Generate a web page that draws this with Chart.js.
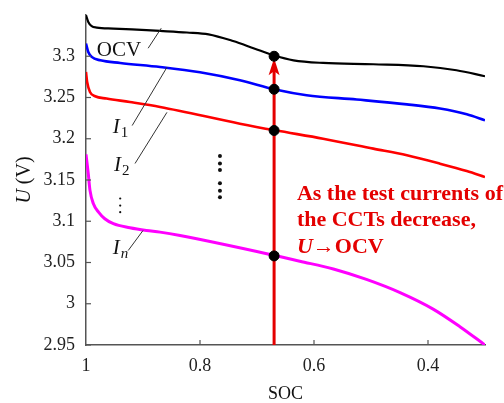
<!DOCTYPE html>
<html><head><meta charset="utf-8">
<script src="https://cdn.jsdelivr.net/npm/chart.js@4"></script>
<style>html,body{margin:0;padding:0;background:#fff}#c{display:block}</style>
</head><body>
<canvas id="c" width="504" height="403"></canvas>
<script>
// ---- data ----
const socOCV = [1.0, 0.996, 0.99, 0.981, 0.952, 0.894, 0.87, 0.823, 0.785, 0.742, 0.705, 0.671, 0.636, 0.584, 0.496, 0.408, 0.35, 0.3];
const uOCV   = [3.3498, 3.3416, 3.3364, 3.3348, 3.3336, 3.3316, 3.3307, 3.3288, 3.3266, 3.3185, 3.3095, 3.3012, 3.2951, 3.2919, 3.2903, 3.2879, 3.283, 3.2757];

const socI1 = [1.0, 0.996, 0.99, 0.975, 0.94, 0.87, 0.8, 0.73, 0.668, 0.613, 0.525, 0.437, 0.379, 0.332, 0.3];
const uI1   = [3.3154, 3.3052, 3.2992, 3.2951, 3.2919, 3.287, 3.2806, 3.2709, 3.2596, 3.2527, 3.2475, 3.2417, 3.2366, 3.2296, 3.2223];

const socI2 = [1.0, 0.998, 0.993, 0.984, 0.964, 0.923, 0.87, 0.73, 0.668, 0.584, 0.496, 0.437, 0.379, 0.332, 0.3];
const uI2   = [3.2809, 3.2688, 3.2567, 3.2515, 3.2487, 3.2445, 3.2385, 3.2183, 3.2102, 3.2001, 3.188, 3.1799, 3.1698, 3.1608, 3.1535];

const socIn = [1.0, 0.996, 0.993, 0.987, 0.978, 0.967, 0.952, 0.923, 0.894, 0.87, 0.835, 0.668, 0.625, 0.566, 0.508, 0.449, 0.391, 0.344, 0.3];
const uIn   = [3.1811, 3.1576, 3.1374, 3.1212, 3.111, 3.103, 3.097, 3.0921, 3.0888, 3.0868, 3.0827, 3.0584, 3.0516, 3.0422, 3.0295, 3.0135, 2.9935, 2.9722, 2.95];

const markerSOC = 0.67;
const markerU = [3.300, 3.260, 3.210, 3.058];

const xTicks = [1, 0.8, 0.6, 0.4];
const yTicks = [2.95, 3, 3.05, 3.1, 3.15, 3.2, 3.25, 3.3];

const curveLabels = ['OCV', 'I1', 'I2', 'In'];
const noteLines = ['As the test currents of', 'the CCTs decrease,'];

const pts = (xs, ys) => xs.map((x, i) => ({x: x, y: ys[i]}));
const SERIF = '"Liberation Serif", "Times New Roman", serif';

const lineDs = (label, xs, ys, color, w) => ({
  label: label, data: pts(xs, ys), borderColor: color, borderWidth: w,
  pointRadius: 0, fill: false, cubicInterpolationMode: 'monotone'
});

const decor = {
  id: 'decor',
  beforeDatasetDraw(chart, args) {
    if (args.index !== 0) return;
    const ctx = chart.ctx, xs = chart.scales.x, ys = chart.scales.y;
    const x = xs.getPixelForValue(markerSOC);
    const yb = ys.getPixelForValue(yTicks[0]);
    const yt = ys.getPixelForValue(markerU[0]) + 2;
    ctx.save();
    ctx.strokeStyle = '#e40000'; ctx.fillStyle = '#e40000';
    ctx.lineWidth = 3;
    ctx.beginPath(); ctx.moveTo(x, yb); ctx.lineTo(x, yt + 12); ctx.stroke();
    ctx.beginPath();
    ctx.moveTo(x, yt); ctx.lineTo(x - 5.5, yt + 17); ctx.lineTo(x, yt + 13); ctx.lineTo(x + 5.5, yt + 17);
    ctx.closePath(); ctx.fill();
    ctx.restore();
  },
  afterDraw(chart) {
    const ctx = chart.ctx, xs = chart.scales.x, ys = chart.scales.y, a = chart.chartArea;
    const X = v => xs.getPixelForValue(v), Y = v => ys.getPixelForValue(v);
    ctx.save();
    // inward tick marks
    ctx.strokeStyle = '#555'; ctx.lineWidth = 1.2;
    xTicks.forEach(v => { if (v === 1) return; ctx.beginPath(); ctx.moveTo(X(v), a.bottom); ctx.lineTo(X(v), a.bottom - 5); ctx.stroke(); });
    yTicks.forEach(v => { ctx.beginPath(); ctx.moveTo(a.left, Y(v)); ctx.lineTo(a.left + 5, Y(v)); ctx.stroke(); });

    // axis titles
    ctx.fillStyle = '#111';
    ctx.font = '18px ' + SERIF; ctx.textAlign = 'center'; ctx.textBaseline = 'middle';
    ctx.fillText('SOC', (a.left + a.right) / 2, 394);
    ctx.save();
    ctx.translate(25, (a.top + a.bottom) / 2); ctx.rotate(-Math.PI / 2);
    ctx.textAlign = 'left';
    ctx.font = 'italic 20px ' + SERIF;
    const wU = ctx.measureText('U').width;
    ctx.font = '20px ' + SERIF;
    const wR = ctx.measureText(' (V)').width;
    let sx = -(wU + wR) / 2;
    ctx.font = 'italic 20px ' + SERIF; ctx.fillText('U', sx, 0);
    ctx.font = '20px ' + SERIF; ctx.fillText(' (V)', sx + wU, 0);
    ctx.restore();

    // leader lines
    ctx.strokeStyle = '#333'; ctx.lineWidth = 1;
    const lead = (s1, u1, s2, u2) => { ctx.beginPath(); ctx.moveTo(X(s1), Y(u1)); ctx.lineTo(X(s2), Y(u2)); ctx.stroke(); };
    lead(0.891, 3.3097, 0.868, 3.3340);
    lead(0.919, 3.216, 0.858, 3.2866);
    lead(0.914, 3.170, 0.858, 3.232);
    lead(0.926, 3.0645, 0.900, 3.0888);

    // curve labels
    ctx.fillStyle = '#111'; ctx.textAlign = 'left'; ctx.textBaseline = 'middle';
    ctx.font = '21px ' + SERIF;
    ctx.fillText(curveLabels[0], X(0.981), Y(3.307));
    const iLab = (s, u, sub) => {
      ctx.font = 'italic 21px ' + SERIF;
      ctx.fillText('I', X(s), Y(u));
      const w = ctx.measureText('I').width;
      ctx.font = (sub === 'n' ? 'italic ' : '') + '15px ' + SERIF;
      ctx.fillText(sub, X(s) + w + 1, Y(u) + 6);
    };
    iLab(0.953, 3.2138, curveLabels[1].slice(1));
    iLab(0.951, 3.168, curveLabels[2].slice(1));
    iLab(0.953, 3.067, curveLabels[3].slice(1));

    // vertical ellipses
    const dot = (s, u, r) => { ctx.beginPath(); ctx.arc(X(s), Y(u), r, 0, Math.PI * 2); ctx.fill(); };
    [3.1276, 3.119, 3.111].forEach(u => dot(0.940, u, 1.1));
    [3.179, 3.170, 3.162, 3.146, 3.137, 3.129].forEach(u => dot(0.765, u, 2));

    // red note
    ctx.fillStyle = '#e40000'; ctx.textBaseline = 'alphabetic';
    ctx.font = 'bold 22px ' + SERIF;
    const nx = X(0.630);
    ctx.fillText(noteLines[0], nx, 200);
    ctx.fillText(noteLines[1], nx, 226);
    ctx.font = 'bold italic 22px ' + SERIF;
    ctx.fillText('U', nx, 253);
    const wu = ctx.measureText('U').width;
    ctx.font = 'bold 22px ' + SERIF;
    ctx.fillText('\u2192OCV', nx + wu, 253);
    ctx.restore();
  }
};

new Chart(document.getElementById('c'), {
  type: 'line',
  data: {
    datasets: [
      { type: 'scatter', label: 'markers', data: markerU.map(u => ({x: markerSOC, y: u})),
        pointRadius: 5, pointBackgroundColor: '#000', pointBorderColor: '#000', showLine: false },
      lineDs(curveLabels[0], socOCV, uOCV, '#000000', 2.2),
      lineDs(curveLabels[1], socI1, uI1, '#0000ff', 2.6),
      lineDs(curveLabels[2], socI2, uI2, '#ff0000', 2.6),
      lineDs(curveLabels[3], socIn, uIn, '#ff00ff', 3)
    ]
  },
  options: {
    responsive: false, animation: false,
    layout: { padding: { top: 15, right: 19, bottom: 0, left: 0 } },
    plugins: { legend: { display: false }, tooltip: { enabled: false } },
    scales: {
      x: {
        type: 'linear', reverse: true, min: 0.3, max: 1,
        afterBuildTicks: s => { s.ticks = xTicks.map(v => ({value: v})); },
        afterFit: s => { s.height = 58; s.paddingLeft = 0; s.paddingRight = 0; },
        grid: { display: false, drawTicks: false },
        border: { display: true, color: '#555', width: 1.5 },
        ticks: { font: { family: SERIF, size: 18 }, color: '#222', padding: 10, maxRotation: 0, autoSkip: false,
                 callback: v => String(v) }
      },
      y: {
        type: 'linear', min: 2.95, max: 3.35,
        afterBuildTicks: s => { s.ticks = yTicks.map(v => ({value: v})); },
        afterFit: s => { s.width = 86; s.paddingTop = 0; s.paddingBottom = 0; },
        grid: { display: false, drawTicks: false },
        border: { display: true, color: '#555', width: 1.5 },
        ticks: { font: { family: SERIF, size: 18 }, color: '#222', padding: 11, autoSkip: false,
                 callback: v => String(v) }
      }
    }
  },
  plugins: [decor]
});
</script>
</body></html>
